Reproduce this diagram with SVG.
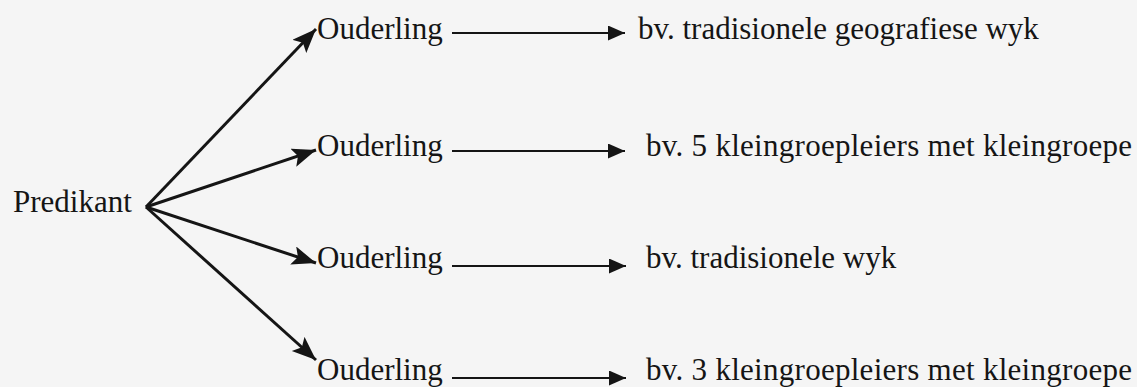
<svg xmlns="http://www.w3.org/2000/svg" width="1137" height="387" viewBox="0 0 1137 387">
  <style>
    text { font-family: "Liberation Serif", "Times New Roman", serif; font-size: 31px; fill: #151515; }
    .diag { stroke: #151515; stroke-width: 3; fill: none; }
    .horiz { stroke: #151515; stroke-width: 2.2; fill: none; }
  </style>
  <defs>
    <marker id="bigHead" markerUnits="userSpaceOnUse" markerWidth="28" markerHeight="22" refX="24" refY="9.5" orient="auto">
      <path d="M0,0 L24,9.5 L0,19 L5,9.5 Z" fill="#151515"/>
    </marker>
    <marker id="smallHead" markerUnits="userSpaceOnUse" markerWidth="18" markerHeight="16" refX="17" refY="7.5" orient="auto">
      <path d="M0,0 L17,7.5 L0,15 Z" fill="#151515"/>
    </marker>
  </defs>
  <rect x="0" y="0" width="1137" height="387" fill="#f5f5f5"/>

  <g id="connectors">
    <line class="diag" x1="146" y1="207" x2="316" y2="29" marker-end="url(#bigHead)"/>
    <line class="diag" x1="146" y1="207" x2="316" y2="150" marker-end="url(#bigHead)"/>
    <line class="diag" x1="146" y1="207" x2="316" y2="263" marker-end="url(#bigHead)"/>
    <line class="diag" x1="146" y1="207" x2="316" y2="360" marker-end="url(#bigHead)"/>
    <line class="horiz" x1="452" y1="33" x2="625" y2="33" marker-end="url(#smallHead)"/>
    <line class="horiz" x1="452" y1="151" x2="625" y2="151" marker-end="url(#smallHead)"/>
    <line class="horiz" x1="452" y1="266" x2="626" y2="266" marker-end="url(#smallHead)"/>
    <line class="horiz" x1="452" y1="378" x2="626" y2="378" marker-end="url(#smallHead)"/>
  </g>

  <g id="predikant"><text x="13" y="212">Predikant</text></g>

  <g id="ouderling1"><text x="317" y="39">Ouderling</text></g>
  <g id="ouderling2"><text x="317" y="156">Ouderling</text></g>
  <g id="ouderling3"><text x="317" y="268">Ouderling</text></g>
  <g id="ouderling4"><text x="317" y="380">Ouderling</text></g>

  <g id="target1"><text x="638" y="39">bv. tradisionele geografiese wyk</text></g>
  <g id="target2"><text x="646" y="156" textLength="486">bv. 5 kleingroepleiers met kleingroepe</text></g>
  <g id="target3"><text x="646" y="268">bv. tradisionele wyk</text></g>
  <g id="target4"><text x="646" y="380" textLength="486">bv. 3 kleingroepleiers met kleingroepe</text></g>
</svg>
